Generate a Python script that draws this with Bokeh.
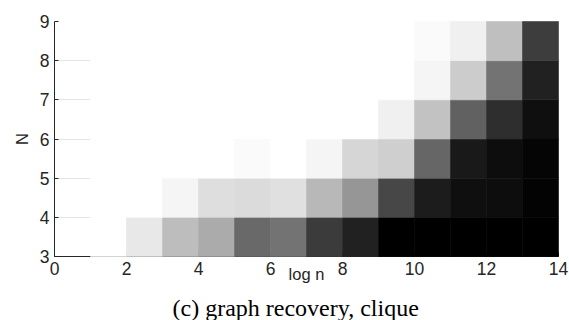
from bokeh.plotting import figure
from bokeh.models import FixedTicker, ColumnDataSource, Title
from bokeh.embed import file_html
from bokeh.resources import INLINE

# x bins (log n): cells span [left, left+1]
logn_left = [1, 2, 3, 4, 5, 6, 7, 8, 9, 10, 11, 12, 13]
# N rows: cells span [N, N+1]
N_rows = [3, 4, 5, 6, 7, 8]

# darkness (0 = white, 1 = black) per row, per logn bin
row_N3 = [0.00, 0.09, 0.26, 0.33, 0.59, 0.55, 0.77, 0.87, 1.00, 1.00, 1.00, 1.00, 1.00]
row_N4 = [0.00, 0.00, 0.04, 0.13, 0.14, 0.12, 0.28, 0.41, 0.72, 0.89, 0.94, 0.95, 0.99]
row_N5 = [0.00, 0.00, 0.00, 0.00, 0.02, 0.00, 0.04, 0.16, 0.19, 0.60, 0.90, 0.95, 0.98]
row_N6 = [0.00, 0.00, 0.00, 0.00, 0.00, 0.00, 0.00, 0.00, 0.06, 0.24, 0.62, 0.82, 0.94]
row_N7 = [0.00, 0.00, 0.00, 0.00, 0.00, 0.00, 0.00, 0.00, 0.00, 0.04, 0.20, 0.55, 0.87]
row_N8 = [0.00, 0.00, 0.00, 0.00, 0.00, 0.00, 0.00, 0.00, 0.00, 0.02, 0.06, 0.25, 0.76]
rows = [row_N3, row_N4, row_N5, row_N6, row_N7, row_N8]

x_ticks = [0, 2, 4, 6, 8, 10, 12, 14]
y_ticks = [3, 4, 5, 6, 7, 8, 9]

x_label = "log n"
y_label = "N"
caption = "(c) graph recovery, clique"

left, right, bottom, top, colors = [], [], [], [], []
for n, vals in zip(N_rows, rows):
    for xl, v in zip(logn_left, vals):
        g = int(round(255 * (1 - v)))
        left.append(xl)
        right.append(xl + 1)
        bottom.append(n)
        top.append(n + 1)
        colors.append("#%02x%02x%02x" % (g, g, g))
src = ColumnDataSource(dict(left=left, right=right, bottom=bottom, top=top, color=colors))

p = figure(width=569, height=320, x_range=(0, 14), y_range=(3, 9),
           output_backend="svg", toolbar_location=None,
           min_border_left=54, min_border_right=11, min_border_top=21,
           min_border_bottom=64, frame_width=504, frame_height=235)
p.outline_line_color = None
p.background_fill_color = "white"
p.border_fill_color = "white"

r = p.quad(left="left", right="right", bottom="bottom", top="top",
           fill_color="color", line_color="color", line_width=0.6, source=src)
r.level = "overlay"

tick_font = "Liberation Sans"
for ax, ticks in ((p.xaxis[0], x_ticks), (p.yaxis[0], y_ticks)):
    ax.ticker = FixedTicker(ticks=ticks)
    ax.minor_tick_line_color = None
    ax.major_tick_in = 4
    ax.major_tick_out = 0
    ax.axis_line_color = "#262626"
    ax.major_tick_line_color = "#262626"
    ax.major_label_text_font = tick_font
    ax.major_label_text_font_size = "17.5px"
    ax.major_label_text_color = "#262626"
    ax.axis_label_text_font = tick_font
    ax.axis_label_text_font_size = "16.5px"
    ax.axis_label_text_font_style = "normal"
    ax.axis_label_text_color = "#262626"
p.xaxis.major_label_standoff = 5
p.yaxis.major_label_standoff = 5
p.xaxis.axis_label = x_label
p.xaxis.axis_label_standoff = -13
p.yaxis.axis_label = y_label
p.yaxis.axis_label_standoff = 6

p.xgrid.grid_line_color = None
p.ygrid.grid_line_color = "#e3e3e3"
p.ygrid.ticker = FixedTicker(ticks=y_ticks)

p.add_layout(Title(text=caption, align="left", offset=118, standoff=14,
                   text_font="Liberation Serif", text_font_size="24px",
                   text_font_style="normal", text_color="black"), "below")

open("out.html", "w").write(file_html(p, INLINE))
